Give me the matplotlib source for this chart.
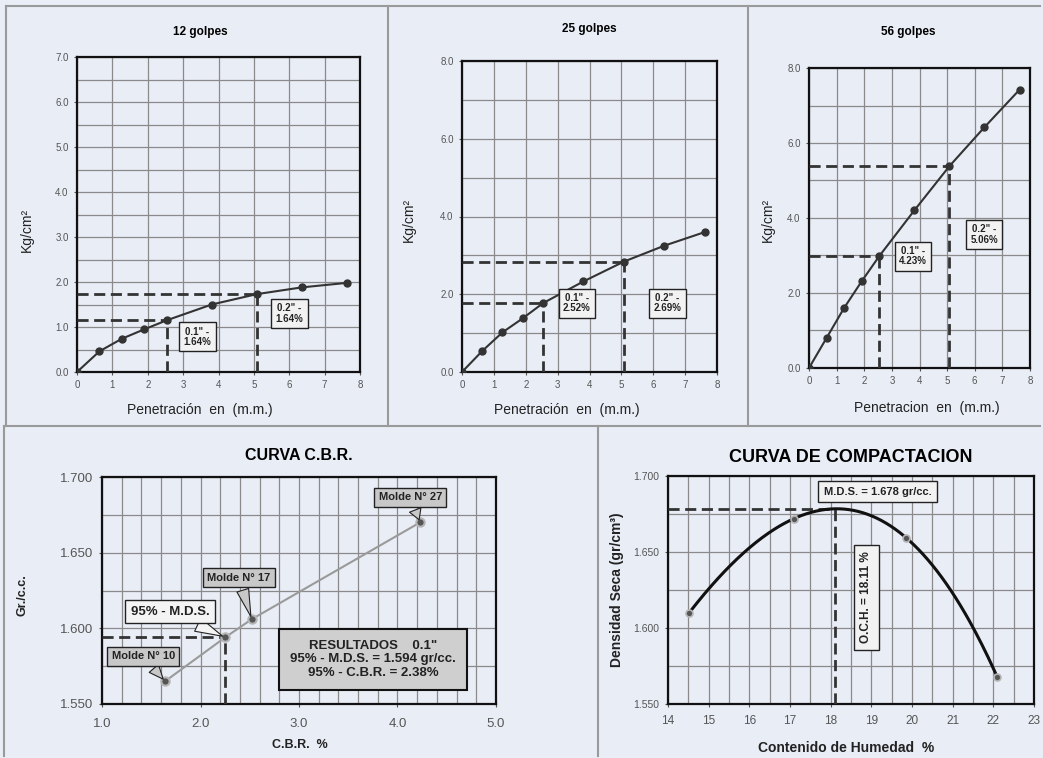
import numpy as np
import matplotlib
matplotlib.use("Agg")
import matplotlib.pyplot as plt
from matplotlib.lines import Line2D

plt.rcParams['font.family'] = ['Liberation Sans', 'DejaVu Sans']

W, H = 1043, 758
BG = "#e9edf6"
DARK = "#333333"
GRID = "#8a8a8a"

# penetration readings (mm) and loads (kg/cm2)
pen = [0, 0.635, 1.27, 1.905, 2.54, 3.81, 5.08, 6.35, 7.62]
load_12 = [0, 0.46, 0.74, 0.95, 1.15, 1.50, 1.73, 1.88, 1.98]
load_25 = [0, 0.54, 1.02, 1.38, 1.77, 2.33, 2.84, 3.25, 3.60]
load_56 = [0, 0.80, 1.60, 2.31, 2.98, 4.20, 5.38, 6.42, 7.42]

# CBR curve
cbr_vals = [1.64, 2.25, 2.52, 4.23]
cbr_dens = [1.565, 1.594, 1.606, 1.670]

# compaction
hum = [14.52, 17.10, 19.85, 22.10]
dens = [1.610, 1.672, 1.6595, 1.5675]
mds = 1.678
och = 18.11

fig = plt.figure(figsize=(W / 100, H / 100), dpi=100, facecolor=BG)


def px_axes(l, t, r, b):
    return fig.add_axes([l / W, 1 - b / H, (r - l) / W, (b - t) / H])


def ftext(x, y, s, **kw):
    fig.text(x / W, 1 - y / H, s, ha="center", va="center", **kw)


def style(ax, fs=7):
    ax.set_facecolor(BG)
    for s in ax.spines.values():
        s.set_linewidth(1.6)
        s.set_color("#111111")
    ax.grid(which="both", color=GRID, linewidth=0.9)
    ax.set_axisbelow(True)
    ax.tick_params(which="both", length=2, labelsize=fs, colors="#555555", pad=4)
    ax.tick_params(which="minor", length=0)


def box(ax, x, y, txt, fs=7, fc="#f2f2f2", rot=0, pad=0.45):
    ax.text(x, y, txt, ha="center", va="center", fontsize=fs, fontweight="bold",
            color="#222222", rotation=rot, linespacing=1.05,
            bbox=dict(boxstyle=f"square,pad={pad}", fc=fc, ec="#222222", lw=1.0), zorder=6)


def golpes(ax, load, ymax, ystep, ylabel_step, b1, b2):
    style(ax)
    ax.plot(pen, load, color=DARK, lw=1.5, marker="o", ms=5, zorder=4)
    ax.set_xlim(0, 8)
    ax.set_ylim(0, ymax)
    ax.set_xticks(range(0, 9))
    ax.set_yticks(np.arange(0, ymax + 0.01, ylabel_step))
    ax.set_yticks(np.arange(0, ymax + 0.01, ystep), minor=True)
    ax.yaxis.set_major_formatter(lambda v, p: f"{v:.1f}")
    y1, y2 = load[4], load[6]
    for xv, yv in [(pen[4], y1), (pen[6], y2)]:
        ax.plot([0, xv], [yv, yv], ls=(0, (4, 2)), color=DARK, lw=2, zorder=3)
        ax.plot([xv, xv], [0, yv], ls=(0, (4, 2)), color=DARK, lw=2, zorder=3)
    box(ax, b1[0], b1[1], b1[2])
    box(ax, b2[0], b2[1], b2[2])


ax1 = px_axes(77, 57, 360, 372)
golpes(ax1, load_12, 7.0, 0.5, 1.0,
       (3.4, 0.78, '0.1" -\n1.64%'), (6.0, 1.3, '0.2" -\n1.64%'))
ftext(200, 32, "12 golpes", fontsize=8.5, fontweight="bold")
ftext(200, 410, "Penetración  en  (m.m.)", fontsize=10, color="#222222")
ftext(27, 230, "Kg/cm²", fontsize=10, color="#222222", rotation=90)

ax2 = px_axes(462, 61, 717, 372)
golpes(ax2, load_25, 8.0, 1.0, 2.0,
       (3.6, 1.77, '0.1" -\n2.52%'), (6.45, 1.77, '0.2" -\n2.69%'))
ftext(589, 29, "25 golpes", fontsize=8.5, fontweight="bold")
ftext(567, 410, "Penetración  en  (m.m.)", fontsize=10, color="#222222")
ftext(409, 220, "Kg/cm²", fontsize=10, color="#222222", rotation=90)

ax3 = px_axes(809, 68, 1030, 368)
golpes(ax3, load_56, 8.0, 1.0, 2.0,
       (3.77, 2.98, '0.1" -\n4.23%'), (6.34, 3.56, '0.2" -\n5.06%'))
ftext(908, 32, "56 golpes", fontsize=8.5, fontweight="bold")
ftext(927, 408, "Penetracion  en  (m.m.)", fontsize=10, color="#222222")
ftext(768, 220, "Kg/cm²", fontsize=10, color="#222222", rotation=90)

# CBR curve
ax4 = px_axes(102, 477, 496, 704)
style(ax4, fs=9.5)
ax4.tick_params(axis="x", pad=8)
ax4.plot(cbr_vals, cbr_dens, color="#9a9a9a", lw=1.5, zorder=3)
ax4.plot(cbr_vals, cbr_dens, ls="none", marker="o", ms=6, mfc="#555555", mec="#b5b5b5", mew=1.5, zorder=4)
ax4.set_xlim(1, 5)
ax4.set_ylim(1.55, 1.70)
ax4.set_xticks(np.arange(1, 5.01, 1))
ax4.set_xticks(np.arange(1, 5.01, 0.2), minor=True)
ax4.set_yticks(np.arange(1.55, 1.701, 0.05))
ax4.set_yticks(np.arange(1.55, 1.701, 0.025), minor=True)
ax4.xaxis.set_major_formatter(lambda v, p: f"{v:.1f}")
ax4.yaxis.set_major_formatter(lambda v, p: f"{v:.3f}")
ax4.plot([1, cbr_vals[1]], [cbr_dens[1]] * 2, ls=(0, (4, 2)), color=DARK, lw=2, zorder=3)
ax4.plot([cbr_vals[1]] * 2, [1.55, cbr_dens[1]], ls=(0, (4, 2)), color=DARK, lw=2, zorder=3)

callouts = [("Molde N° 10", 0, 1.42, 1.5815, "#c8c8c8"),
            ("95% - M.D.S.", 1, 1.69, 1.611, "#f4f4f4"),
            ("Molde N° 17", 2, 2.39, 1.6335, "#c8c8c8"),
            ("Molde N° 27", 3, 4.13, 1.6865, "#c8c8c8")]
for txt, i, tx, ty, fc in callouts:
    fs = 9.5 if i == 1 else 8
    ax4.annotate(txt, xy=(cbr_vals[i], cbr_dens[i]), xytext=(tx, ty),
                 ha="center", va="center", fontsize=fs, fontweight="bold", color="#222222",
                 bbox=dict(boxstyle="square,pad=0.4", fc=fc, ec="#222222", lw=1.0),
                 arrowprops=dict(arrowstyle="wedge,tail_width=1.1,shrink_factor=0.5",
                                 fc=fc, ec="#222222", lw=0.8),
                 zorder=6)
ax4.text(3.75, 1.5795, 'RESULTADOS    0.1"\n95% - M.D.S. = 1.594 gr/cc.\n95% - C.B.R. = 2.38%',
         ha="center", va="center", fontsize=9.5, fontweight="bold", color="#222222",
         linespacing=1.15,
         bbox=dict(boxstyle="square,pad=0.85", fc="#cfcfcf", ec="#111111", lw=1.5), zorder=6)
ax4.set_title("CURVA C.B.R.", fontsize=11.5, fontweight="bold", pad=12)
ftext(300, 745, "C.B.R.  %", fontsize=9, fontweight="bold", color="#222222")
ftext(23, 595, "Gr./c.c.", fontsize=9, fontweight="bold", color="#222222", rotation=90)

# compaction curve
ax5 = px_axes(668, 476, 1034, 704)
style(ax5, fs=7.5)
ax5.tick_params(axis="x", labelsize=8.5, pad=6)
coef = np.polyfit(hum, dens, 3)
xs = np.linspace(hum[0], hum[-1], 200)
ax5.plot(xs, np.polyval(coef, xs), color="#111111", lw=2.2, zorder=4)
ax5.plot(hum, dens, ls="none", marker="o", ms=5, mfc="#555555", mec="#b5b5b5", mew=1.2, zorder=5)
ax5.set_xlim(14, 23)
ax5.set_ylim(1.55, 1.70)
ax5.set_xticks(range(14, 24))
ax5.set_xticks(np.arange(14, 23.01, 0.5), minor=True)
ax5.set_yticks(np.arange(1.55, 1.701, 0.05))
ax5.set_yticks(np.arange(1.55, 1.701, 0.025), minor=True)
ax5.yaxis.set_major_formatter(lambda v, p: f"{v:.3f}")
ax5.plot([14, och], [mds, mds], ls=(0, (4, 2)), color=DARK, lw=2, zorder=3)
ax5.plot([och, och], [1.55, mds], ls=(0, (4, 2)), color=DARK, lw=2, zorder=3)
box(ax5, 19.15, 1.6897, "M.D.S. = 1.678 gr/cc.", fs=8, pad=0.5)
box(ax5, 18.88, 1.620, "O.C.H. = 18.11 %", fs=8.5, rot=90, pad=0.55)
ax5.set_title("CURVA DE COMPACTACION", fontsize=13, fontweight="bold", pad=10)
ftext(846, 748, "Contenido de Humedad  %", fontsize=10, fontweight="bold", color="#222222")
ftext(617, 590, "Densidad Seca (gr/cm³)", fontsize=10, fontweight="bold", color="#222222", rotation=90)

# panel borders
def hline(x0, x1, y):
    fig.add_artist(Line2D([x0 / W, x1 / W], [1 - y / H] * 2, color="#9a9a9a", lw=1.5))


def vline(x, y0, y1):
    fig.add_artist(Line2D([x / W] * 2, [1 - y0 / H, 1 - y1 / H], color="#9a9a9a", lw=1.5))


hline(6, 1040, 6)
hline(4, 1040, 426)
vline(6, 6, 426)
vline(388, 6, 426)
vline(748, 6, 426)
vline(4, 426, 756)
vline(598, 426, 756)

fig.savefig("out.png", dpi=100, facecolor=BG)
